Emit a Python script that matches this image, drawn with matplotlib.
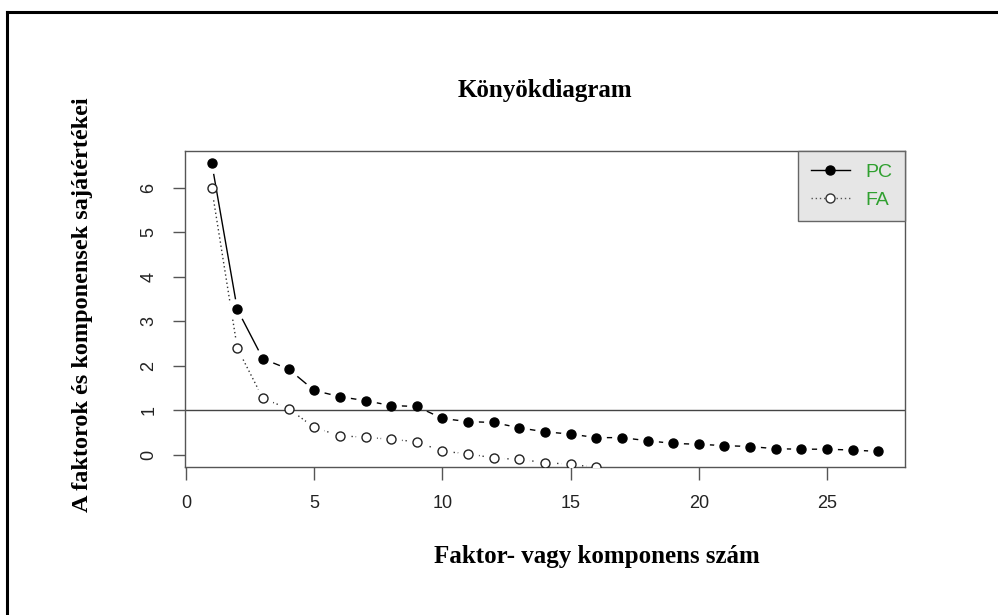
import matplotlib
matplotlib.use("Agg")
import matplotlib.pyplot as plt
from matplotlib.lines import Line2D

# sajatertekek (lekerekitve a kepről)
komponens = list(range(1, 28))
pc = [6.57, 3.27, 2.16, 1.93, 1.45, 1.31, 1.22, 1.11, 1.09, 0.82,
      0.75, 0.73, 0.61, 0.52, 0.47, 0.39, 0.39, 0.32, 0.26, 0.24,
      0.21, 0.19, 0.14, 0.13, 0.13, 0.11, 0.08]
faktor = list(range(1, 17))
fa = [6.00, 2.40, 1.27, 1.04, 0.62, 0.43, 0.40, 0.35, 0.30, 0.08,
      0.03, -0.07, -0.10, -0.17, -0.21, -0.28]
xticks = [0, 5, 10, 15, 20, 25]
yticks = [0, 1, 2, 3, 4, 5, 6]

W, H = 998, 615
fig = plt.figure(figsize=(W / 100, H / 100), dpi=100)
ax = fig.add_axes([185 / W, 1 - 467 / H, (905 - 185) / W, (467 - 151) / H])

serif = "Liberation Serif"
sans = "Liberation Sans"
zold = "#30a030"

# vonalak, a pontok koruli res feher "halo" markerekkel
ax.plot(faktor, fa, color="#333333", lw=1, dashes=(1, 2), zorder=2)
ax.plot(faktor, fa, ls="none", marker="o", ms=15, mfc="white", mec="none", zorder=2.1)
ax.plot(komponens, pc, color="black", lw=1, zorder=2.2)
ax.plot(komponens, pc, ls="none", marker="o", ms=15, mfc="white", mec="none", zorder=2.3)
ax.axhline(1, color="#444444", lw=1, zorder=2.5)
ax.plot(faktor, fa, ls="none", marker="o", ms=6.5, mfc="white", mec="#222222", mew=1, zorder=3)
ax.plot(komponens, pc, ls="none", marker="o", ms=6.5, mfc="black", mec="black", zorder=3.1)

ax.set_xlim(-0.04, 28.04)
ax.set_ylim(-0.27, 6.83)
ax.set_xticks(xticks)
ax.set_yticks(yticks)
for s in ax.spines.values():
    s.set_color("#555555")
    s.set_linewidth(1)
ax.tick_params(axis="both", length=9, width=1, color="#555555", labelsize=13, pad=11)
for lab in ax.get_xticklabels() + ax.get_yticklabels():
    lab.set_fontfamily(sans)
    lab.set_color("#222222")
for lab in ax.get_yticklabels():
    lab.set_rotation(90)
    lab.set_va("center")

handles = [
    Line2D([], [], color="black", lw=1, marker="o", ms=6.5, mfc="black", mec="black"),
    Line2D([], [], color="#555555", lw=1, dashes=(1, 2), marker="o", ms=6.5, mfc="white", mec="#333333"),
]
leg = ax.legend(handles, ["PC", "FA"], loc="upper right", bbox_to_anchor=(1, 1),
                borderaxespad=0, fancybox=False, framealpha=1, facecolor="#e6e6e6",
                edgecolor="#666666", handlelength=2.0, handletextpad=0.8,
                prop={"family": sans, "size": 14}, borderpad=0.65, labelspacing=0.5)
for t in leg.get_texts():
    t.set_color(zold)

fig.text(545 / W, 1 - 90 / H, "Könyökdiagram", ha="center", va="center",
         family=serif, weight="bold", fontsize=18)
fig.text(597 / W, 1 - 557 / H, "Faktor- vagy komponens szám", ha="center", va="center",
         family=serif, weight="bold", fontsize=18)
fig.text(83 / W, 1 - 305 / H, "A faktorok és komponensek sajátértékei", ha="center", va="center",
         rotation=90, family=serif, weight="bold", fontsize=17.5)

# kulso keret (bal es felso vonal)
fig.add_artist(Line2D([7 / W, 1], [1 - 11.5 / H, 1 - 11.5 / H], color="black", lw=2.2))
fig.add_artist(Line2D([7 / W, 7 / W], [0, 1 - 11.5 / H], color="black", lw=2.2))

fig.savefig("out.png", dpi=100)
